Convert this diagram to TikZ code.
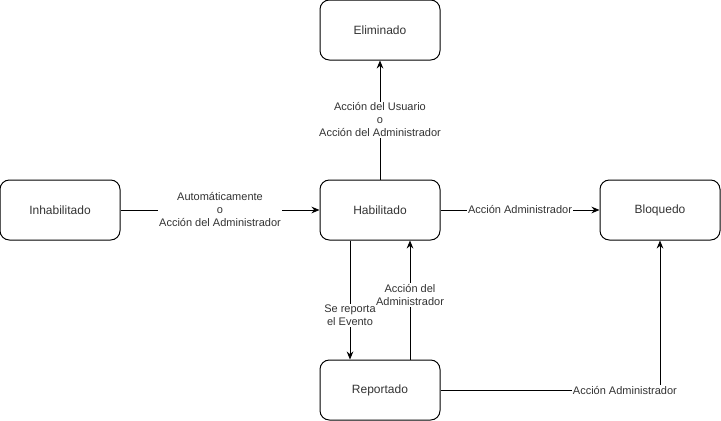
\documentclass[tikz,border=0pt]{standalone}
\usepackage{fontspec}
\setmainfont{Liberation Sans}
\usetikzlibrary{positioning}
\usetikzlibrary{arrows.meta}

\begin{document}
\begin{tikzpicture}[x=0.75pt,y=-0.75pt,
    estado/.style={draw, line width=0.75pt, rounded corners=7pt, minimum width=90pt, minimum height=45pt, font=\fontsize{9}{11}\selectfont, text=black!80},
    flecha/.style={draw, line width=0.75pt, -{Stealth[length=6pt,width=5pt]}},
    etiqueta/.style={fill=white, inner sep=1pt, align=center, font=\fontsize{8.25}{9.75}\selectfont, text=black!80}]
          \useasboundingbox (0,0) rectangle (721,421);
          \node[estado] (elim) at (380,30) {Eliminado};
          \node[estado] (inhab) at (60,210) {Inhabilitado};
          \node[estado] (hab) at (380,210) {Habilitado};
          \node[estado] (bloq) at (660,210) {Bloquedo};
          \node[estado] (rep) at (380,390) {Reportado};

          \draw[flecha] (inhab) -- node[etiqueta] {Automáticamente\\o\\Acción del Administrador} (hab);
          \draw[flecha] (hab) -- node[etiqueta] {Acción del Usuario\\o\\Acción del Administrador} (elim);
          \draw[flecha] (hab) -- node[etiqueta] {Acción Administrador} (bloq);
          \draw[flecha] ([xshift=-22.5pt]hab.south) -- node[etiqueta, pos=0.63] {Se reporta\\el Evento} ([xshift=-22.5pt]rep.north);
          \draw[flecha] ([xshift=22.5pt]rep.north) -- node[etiqueta, pos=0.54] {Acción del\\Administrador} ([xshift=22.5pt]hab.south);
          \draw[flecha] (rep) -- node[etiqueta, pos=0.84] {Acción Administrador} (bloq.south |- rep) -- (bloq);
        \end{tikzpicture}
\end{document}
